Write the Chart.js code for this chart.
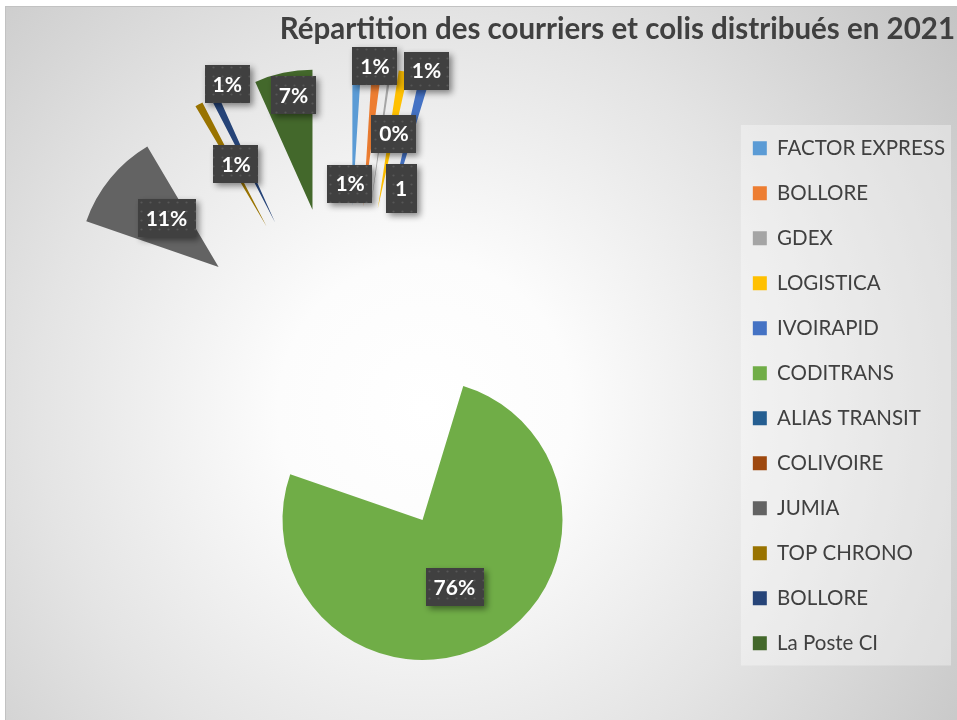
<!DOCTYPE html>
<html>
<head>
<meta charset="utf-8">
<script src="https://cdn.jsdelivr.net/npm/chart.js@4.4.1/dist/chart.umd.min.js"></script>
<style>
  html, body { margin: 0; padding: 0; width: 957px; height: 720px; overflow: hidden; background: #fff; }
  #frame {
    position: absolute; left: 5px; top: 6px; width: 952px; height: 714px;
    border-top: 1px solid #c2c2c2; border-left: 1px solid #c2c2c2;
    background: radial-gradient(circle farthest-corner at 44% 56%, #ffffff 0%, #fcfcfc 22%, #e4e4e4 58%, #c4c4c4 100%);
  }
  #wrap { position: absolute; left: -34px; top: 0; width: 991px; height: 720px; }
</style>
</head>
<body>
<div id="frame"></div>
<div id="wrap"><canvas id="pie-chart"></canvas></div>
<script>
const categories = ["FACTOR EXPRESS", "BOLLORE", "GDEX", "LOGISTICA", "IVOIRAPID", "CODITRANS",
    "ALIAS TRANSIT", "COLIVOIRE", "JUMIA", "TOP CHRONO", "BOLLORE", "La Poste CI"];
const shares = [1.0, 1.1, 0.3, 1.1, 1.2, 75.6, 0, 0, 11.2, 0.9, 0.9, 6.7];
const colors = ["#5B9BD5", "#ED7D31", "#A5A5A5", "#FFC000", "#4472C4", "#70AD47",
    "#255E91", "#9E480E", "#636363", "#997300", "#264478", "#43682B"];

// where each data label sits (fraction of radius from the slice tip, small turn in degrees)
const labelRadius = [0.16, 1.01, 0.55, 0.18, 1.04, 0.53, 0, 0, 0.51, 0.5, 1.04, 0.83];
const labelTurn = [-0.9, -0.4, 3, 5.8, 0, 0.5, 0, 0, 1.2, 0.9, 3.1, 1.1];
const labelCut = [false, false, false, true, false, false, false, false, false, false, false, false];

const explode = 166;

const explodePlugin = {
    id: 'explode',
    afterDatasetUpdate(chart, args) {
        args.meta.data.forEach(arc => {
            const mid = (arc.startAngle + arc.endAngle) / 2;
            arc.x += Math.cos(mid) * explode;
            arc.y += Math.sin(mid) * explode;
        });
    }
};

const legendBoxPlugin = {
    id: 'legendBox',
    beforeDraw(chart) {
        const lg = chart.legend;
        if (!lg || !lg.legendHitBoxes || !lg.legendHitBoxes.length) return;
        const boxes = lg.legendHitBoxes;
        const first = boxes[0], last = boxes[boxes.length - 1];
        const ctx = chart.ctx;
        ctx.save();
        ctx.fillStyle = 'rgba(255,255,255,0.35)';
        ctx.fillRect(first.left - 12, first.top - 13, lg.right - 4 - (first.left - 12), last.top + last.height + 12 - (first.top - 13));
        ctx.restore();
    }
};

function makePattern(ctx) {
    const p = document.createElement('canvas');
    p.width = 9; p.height = 9;
    const pc = p.getContext('2d');
    pc.fillStyle = '#404040';
    pc.fillRect(0, 0, 9, 9);
    pc.fillStyle = '#575757';
    pc.beginPath();
    pc.arc(4.5, 4.5, 1.1, 0, Math.PI * 2);
    pc.fill();
    return ctx.createPattern(p, 'repeat');
}

const labelPlugin = {
    id: 'sliceLabels',
    afterDatasetsDraw(chart) {
        const ctx = chart.ctx;
        const meta = chart.getDatasetMeta(0);
        const data = chart.data.datasets[0].data;
        const total = data.reduce((s, v) => s + v, 0);
        const pattern = makePattern(ctx);
        meta.data.forEach((arc, i) => {
            if (!data[i]) return;
            const mid = (arc.startAngle + arc.endAngle) / 2;
            const cx = arc.x - Math.cos(mid) * explode;
            const cy = arc.y - Math.sin(mid) * explode;
            const ang = mid + labelTurn[i] * Math.PI / 180;
            const dist = explode + labelRadius[i] * arc.outerRadius;
            const x = cx + Math.cos(ang) * dist;
            const y = cy + Math.sin(ang) * dist;
            const pct = Math.round(data[i] / total * 100);
            const text = labelCut[i] ? String(pct) : pct + '%';
            ctx.save();
            ctx.font = 'bold 21px Lato';
            const tw = ctx.measureText(text).width;
            const w = labelCut[i] ? tw + 19 : tw + 16;
            const h = labelCut[i] ? 49 : 38;
            ctx.shadowColor = 'rgba(0,0,0,0.45)';
            ctx.shadowBlur = 6;
            ctx.shadowOffsetX = 3;
            ctx.shadowOffsetY = 3;
            ctx.fillStyle = pattern;
            ctx.fillRect(Math.round(x - w / 2), Math.round(y - h / 2), Math.round(w), h);
            ctx.shadowColor = 'transparent';
            ctx.fillStyle = '#ffffff';
            ctx.textAlign = 'center';
            ctx.textBaseline = 'middle';
            ctx.fillText(text, x, y + 1);
            ctx.restore();
        });
    }
};

new Chart(document.getElementById("pie-chart"), {
    type: 'pie',
    data: {
        labels: categories,
        datasets: [{
            data: shares,
            backgroundColor: colors,
            borderWidth: 0,
            radius: 140
        }]
    },
    plugins: [explodePlugin, legendBoxPlugin, labelPlugin],
    options: {
        responsive: true,
        maintainAspectRatio: false,
        animation: false,
        events: [],
        layout: {
            padding: {left: 0, right: 2, top: 0, bottom: 42}
        },
        plugins: {
            tooltip: {enabled: false},
            title: {
                display: true,
                text: 'Répartition des courriers et colis distribués en 2021',
                align: 'end',
                color: '#404040',
                padding: {top: 12, bottom: 18.6},
                font: {family: 'Lato', size: 29.5, weight: 'bold', lineHeight: 1.2}
            },
            legend: {
                display: true,
                position: 'right',
                align: 'end',
                labels: {
                    color: '#404040',
                    boxWidth: 14,
                    boxHeight: 14,
                    padding: 24.5,
                    font: {family: 'Lato', size: 20.5}
                }
            }
        }
    }
});
</script>
</body>
</html>
